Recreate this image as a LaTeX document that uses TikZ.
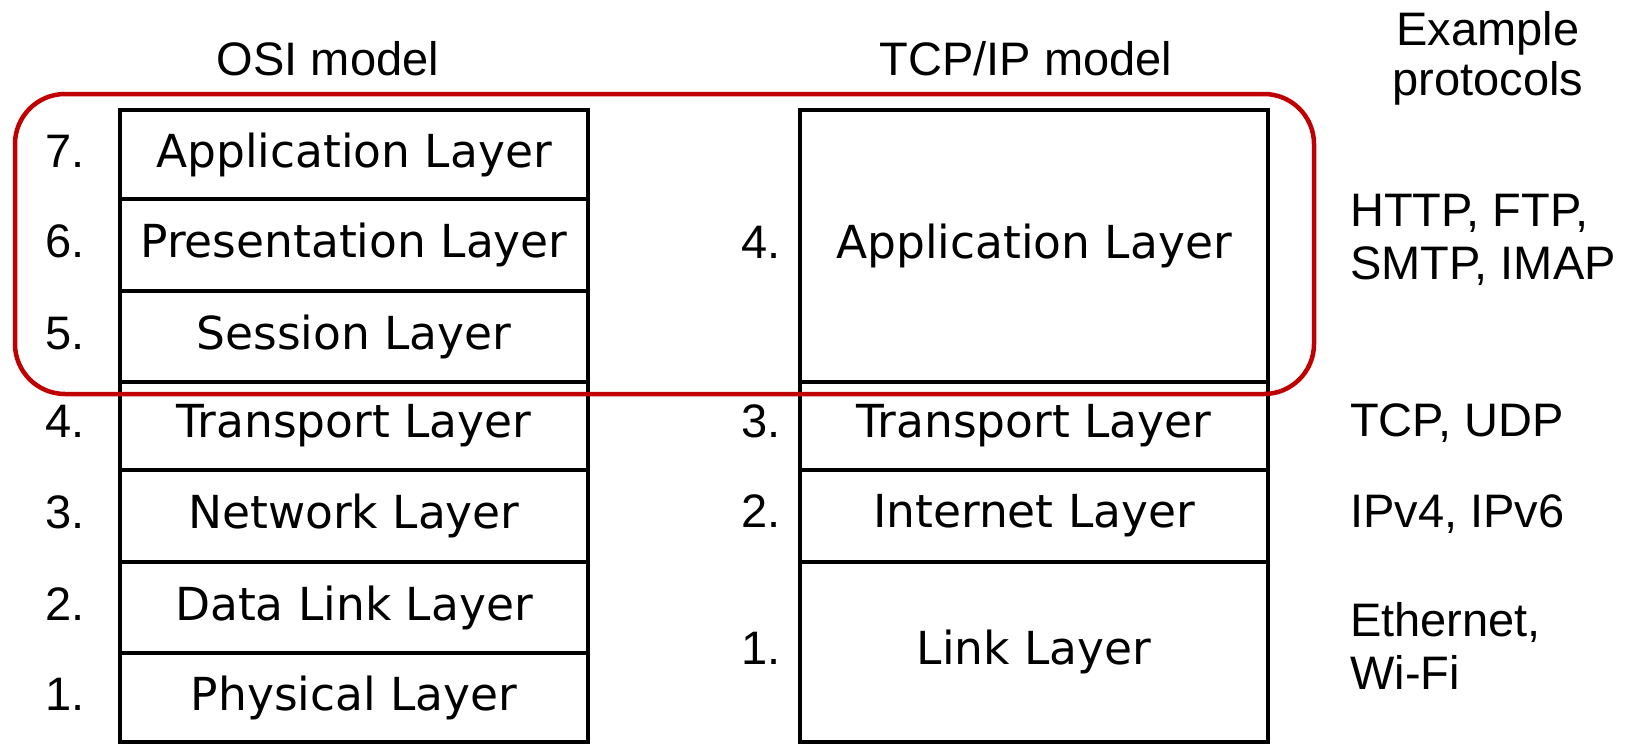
\documentclass[tikz,border=0pt]{standalone}
\usepackage{fontspec}
\setmainfont{Liberation Sans}
\newfontfamily\layerfont{DejaVu Sans}
\definecolor{hired}{RGB}{192,0,0}
\begin{document}
\begin{tikzpicture}[x=1pt,y=-1pt,
  layer/.style={draw=black, line width=4.5pt, rectangle, inner sep=0pt, outer sep=0pt,
    minimum width=468pt, font=\layerfont\fontsize{45.5}{50}\selectfont},
  num/.style={anchor=base east, inner sep=0pt, font=\fontsize{47}{53}\selectfont},
  title/.style={anchor=base, inner sep=0pt, font=\fontsize{47}{53}\selectfont},
  proto/.style={anchor=base west, inner sep=0pt, font=\fontsize{47}{53}\selectfont},
  highlight/.style={draw=hired, line width=4.5pt, rounded corners=50pt, rectangle, inner sep=0pt}]
\useasboundingbox (0,0) rectangle (1633,744);

% OSI model
\node[layer, minimum height=89pt] (o7) at (354,154.5) {Application Layer};
\node[layer, minimum height=92pt] (o6) at (354,245) {Presentation Layer};
\node[layer, minimum height=91pt] (o5) at (354,336.5) {Session Layer};
\node[layer, minimum height=88pt] (o4) at (354,426) {Transport Layer};
\node[layer, minimum height=92pt] (o3) at (354,516) {Network Layer};
\node[layer, minimum height=91pt] (o2) at (354,607.5) {Data Link Layer};
\node[layer, minimum height=89pt] (o1) at (354,697.5) {Physical Layer};

% TCP/IP model
\node[layer, minimum height=272pt] (t4) at (1034,246) {Application Layer};
\node[layer, minimum height=88pt] (t3) at (1034,426) {Transport Layer};
\node[layer, minimum height=92pt] (t2) at (1034,516) {Internet Layer};
\node[layer, minimum height=180pt] (t1) at (1034,652) {Link Layer};

% numbers
\coordinate (ox) at (85,0);
\coordinate (tx) at (781,0);
\node[num] (n7) at (o7.base -| ox) {7.};
\node[num] (n6) at (o6.base -| ox) {6.};
\node[num] (n5) at (o5.base -| ox) {5.};
\node[num] (n4) at (o4.base -| ox) {4.};
\node[num] (n3) at (o3.base -| ox) {3.};
\node[num] (n2) at (o2.base -| ox) {2.};
\node[num] (n1) at (o1.base -| ox) {1.};
\node[num] (m4) at (t4.base -| tx) {4.};
\node[num] (m3) at (t3.base -| tx) {3.};
\node[num] (m2) at (t2.base -| tx) {2.};
\node[num] (m1) at (t1.base -| tx) {1.};

% titles
\node[title] (osititle) at (328,75) {OSI model};
\node[title] (tcptitle) at (1026,75) {TCP/IP model};
\node[title, font=\fontsize{47}{51}\selectfont] (extitle) at (1488,45)
  {\begin{tabular}[t]{@{}c@{}}Example\\protocols\end{tabular}};

% protocols
\node[proto] (p4) at (1350,226) {\begin{tabular}[t]{@{}l@{}}HTTP, FTP,\\SMTP, IMAP\end{tabular}};
\node[proto] (p3) at (1350,436) {TCP, UDP};
\node[proto] (p2) at (1350,527) {IPv4, IPv6};
\node[proto] (p1) at (1350,636) {\begin{tabular}[t]{@{}l@{}}Ethernet,\\Wi-Fi\end{tabular}};

% highlight
\node[highlight, minimum width=1299pt, minimum height=300pt] (group) at (664.5,244) {};
\end{tikzpicture}
\end{document}
